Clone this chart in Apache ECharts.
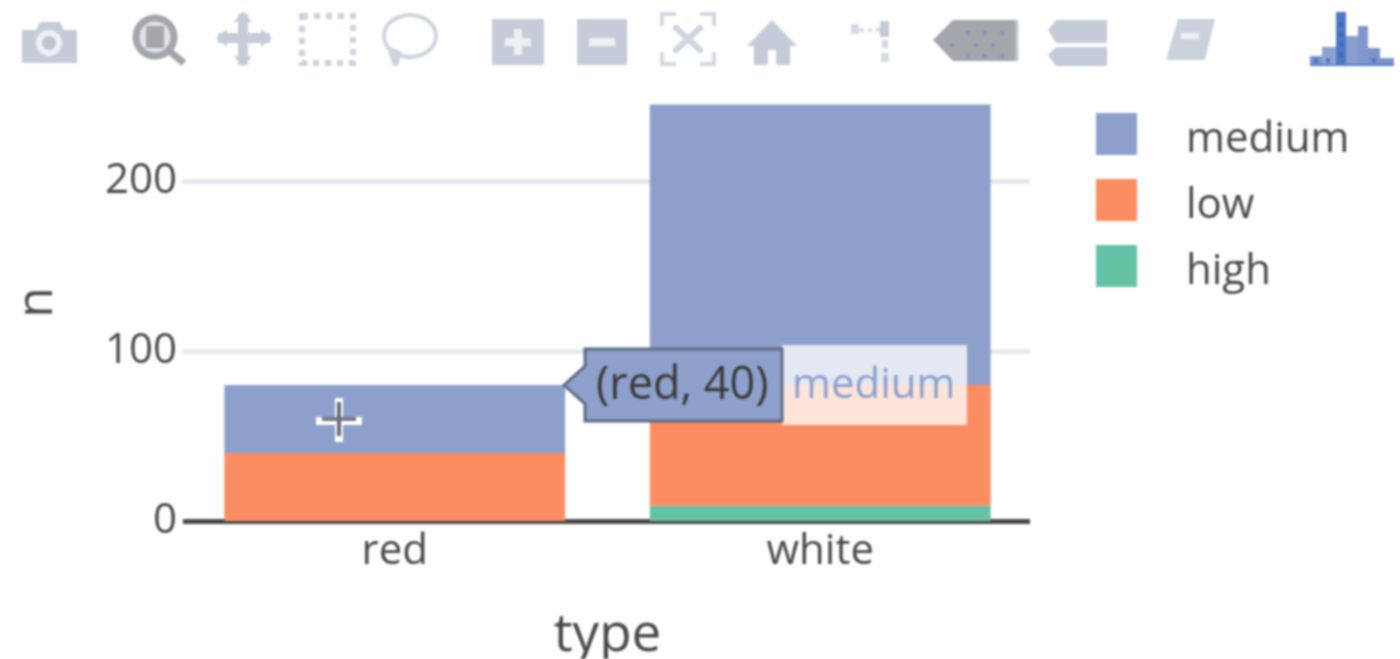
<!DOCTYPE html>
<html><head><meta charset="utf-8">
<style>html,body{margin:0;padding:0;background:#fff;overflow:hidden}#c{width:1400px;height:659px;filter:blur(1.2px)}</style>
<script src="https://cdn.jsdelivr.net/npm/echarts@6/dist/echarts.min.js"></script>
</head><body><div id="c"></div>
<script>
const categories = ['red', 'white'];
const high = [null, 9];
const low = [40, 71];
const medium = [40, 165];
const legendOrder = ['medium', 'low', 'high'];
const hoverName = 'medium';
const hoverText = '(red, 40)';

const FONT = '"Open Sans", "Noto Sans", sans-serif';
const TXT = '#4a4a4a';
const ICON = '#c5ccd8';
const DARK = '#a4a6ac';

function rect(x, y, w, h, fill) { return {type:'rect', shape:{x, y, width:w, height:h}, style:{fill}, silent:true}; }
function poly(points, fill) { return {type:'polygon', shape:{points}, style:{fill}, silent:true}; }
function line(x1, y1, x2, y2, stroke, lineWidth, lineDash) { return {type:'line', shape:{x1, y1, x2, y2}, style:{stroke, lineWidth, lineDash}, silent:true}; }

const icons = [
  // camera
  poly([[22,30],[36,30],[40,22],[60,22],[64,30],[77,30],[77,63],[22,63]], ICON),
  {type:'circle', shape:{cx:49, cy:43, r:13}, style:{fill:'#eef0f4'}, silent:true},
  {type:'circle', shape:{cx:49, cy:43, r:7}, style:{fill:'#bcc4d0'}, silent:true},
  // zoom
  {type:'circle', shape:{cx:155, cy:37, r:19}, style:{fill:'#dfe2e8', stroke:DARK, lineWidth:7}, silent:true},
  rect(146, 26, 18, 22, DARK),
  line(168, 50, 184, 63, DARK, 7),
  // pan
  line(218, 38, 270, 38, ICON, 10), line(243, 14, 243, 65, ICON, 10),
  poly([[243,11],[252,22],[234,22]], ICON), poly([[243,67],[252,56],[234,56]], ICON),
  poly([[216,38],[227,29],[227,47]], ICON), poly([[272,38],[261,29],[261,47]], ICON),
  // box select
  {type:'rect', shape:{x:302, y:16, width:51, height:47}, style:{fill:'none', stroke:'#cdd3dd', lineWidth:6, lineDash:[6,6]}, silent:true},
  // lasso
  {type:'ellipse', shape:{cx:410, cy:36, rx:26, ry:21}, style:{fill:'none', stroke:'#cfd5de', lineWidth:4}, silent:true},
  poly([[386,45],[402,52],[398,66],[393,66]], '#cfd5de'),
  // zoom in
  rect(492, 19, 52, 46, ICON), rect(505, 38, 26, 8, '#eef0f4'), rect(514, 29, 8, 26, '#eef0f4'),
  // zoom out
  rect(577, 19, 50, 46, ICON), rect(589, 38, 26, 8, '#eef0f4'),
  // autoscale
  line(662, 26, 662, 13, '#d3d8e1', 4), line(660, 14, 676, 14, '#d3d8e1', 4),
  line(714, 26, 714, 13, '#d3d8e1', 4), line(716, 14, 700, 14, '#d3d8e1', 4),
  line(662, 52, 662, 65, '#d3d8e1', 4), line(660, 64, 676, 64, '#d3d8e1', 4),
  line(714, 52, 714, 65, '#d3d8e1', 4), line(716, 64, 700, 64, '#d3d8e1', 4),
  line(674, 26, 702, 52, '#cfd5de', 6), line(702, 26, 674, 52, '#cfd5de', 6),
  // home
  poly([[772,20],[797,46],[790,46],[790,65],[776,65],[776,50],[768,50],[768,65],[754,65],[754,46],[747,46]], ICON),
  // spikelines
  rect(851, 24, 8, 10, '#d6dbe3'), line(860, 30, 880, 30, '#d6dbe3', 4, [4,4]),
  rect(880, 21, 9, 16, ICON), rect(882, 40, 6, 8, '#d0d6df'), rect(881, 53, 8, 9, '#d6dbe3'),
  // hover closest (tag)
  poly([[933,40],[953,20],[1017,20],[1017,61],[953,61]], DARK),
  line(1017, 20, 1017, 61, ICON, 3),
  ...[[968,33],[985,33],[1002,33],[976,45],[993,45],[952,45],[968,56],[985,56],[1002,56]].map(p => rect(p[0]-2, p[1]-2, 4, 4, '#8a96b6')),
  // hover compare (two tags)
  poly([[1048,30],[1056,20],[1107,20],[1107,43],[1056,43]], ICON),
  poly([[1048,55],[1056,47],[1107,47],[1107,66],[1056,66]], ICON),
  // doc / toggle
  poly([[1178,19],[1215,19],[1205,60],[1166,60]], '#cbd1db'),
  rect(1181, 33, 18, 6, '#edeff3'),
  // logo bars
  rect(1310, 56, 12, 9, '#7d93c6'), rect(1322, 47, 14, 18, '#8ea2d2'),
  rect(1336, 12, 10, 53, '#4f78c4'), rect(1346, 36, 18, 29, '#8a9fcf'),
  rect(1358, 26, 10, 39, '#7f97cc'), rect(1368, 48, 12, 17, '#7b93ca'), rect(1380, 58, 14, 7, '#7b93ca'),
  ...[1341].flatMap(x => [22,32,42,52].map(y => rect(x-2, y, 4, 5, '#3f6cc0'))),
  ...[1316,1328,1374].map(x => rect(x-2, 58, 4, 5, '#4f78c4')),
  line(1310, 65, 1394, 65, '#5a80c8', 2)
];

const hover = [
  rect(1030, 170, 6, 360, '#ffffff'),
  rect(177, 515, 6, 12, '#ffffff'),
  rect(782, 345, 185, 80, 'rgba(255,255,255,0.76)'),
  {type:'polygon', shape:{points:[[564,385],[585,366],[585,349],[782,349],[782,421],[585,421],[585,404]]},
   style:{fill:'#8DA0CB', stroke:'#5f6b84', lineWidth:3}, silent:true},
  {type:'text', style:{text:hoverText, x:596, y:386, fill:'#3a3a3a', font:'45px ' + FONT, textVerticalAlign:'middle'}, silent:true},
  {type:'text', style:{text:hoverName, x:792, y:386, fill:'#8DA0CB', font:'42px ' + FONT, textVerticalAlign:'middle'}, silent:true},
  // cursor
  line(316, 421, 362, 421, '#ffffff', 8), line(339, 398, 339, 442, '#ffffff', 8),
  line(322, 419, 356, 419, '#777a84', 4), line(339, 402, 339, 436, '#666a76', 4)
];

const seriesOf = (name, data, color) => ({
  name, type:'bar', stack:'n', data, barWidth:'80.1%',
  itemStyle:{color}, emphasis:{disabled:true}
});

const chart = echarts.init(document.getElementById('c'));
chart.setOption({
  animation:false,
  backgroundColor:'#ffffff',
  textStyle:{fontFamily:FONT},
  grid:{left:182, right:367, top:96, bottom:138, containLabel:false, outerBoundsMode:'none'},
  legend:{
    left:1096, top:108, padding:0, orient:'vertical', data:legendOrder, itemWidth:41, itemHeight:42, itemGap:13,
    icon:'rect', selectedMode:false,
    formatter: name => '{s| }\n{a|' + name + '}',
    textStyle:{
      fontFamily:FONT, fontSize:42, color:TXT, padding:[0,0,0,44],
      rich:{
        s:{fontSize:10, lineHeight:12},
        a:{fontFamily:FONT, fontSize:42, color:TXT, lineHeight:42}
      }
    }
  },
  xAxis:{
    type:'category', data:categories, name:'type', nameLocation:'middle', nameGap:88,
    nameTextStyle:{fontSize:53, color:TXT, fontFamily:FONT},
    axisLine:{show:true, lineStyle:{color:'#4a4a4a', width:5}},
    axisTick:{show:false},
    axisLabel:{fontSize:42, color:TXT, margin:10, fontFamily:FONT}
  },
  yAxis:{
    type:'value', min:0, max:250, interval:100, name:'n', nameLocation:'middle', nameGap:119,
    nameTextStyle:{fontSize:50, color:TXT, fontFamily:FONT, padding:[0,0,0,12]},
    axisLine:{show:false}, axisTick:{show:false},
    axisLabel:{fontSize:42, color:TXT, margin:5, fontFamily:FONT, showMaxLabel:false},
    splitLine:{show:true, showMinLine:false, showMaxLine:false, lineStyle:{color:'#e6e9f1', width:5}}
  },
  series:[
    seriesOf('high', high, '#66C2A5'),
    seriesOf('low', low, '#FC8D62'),
    seriesOf('medium', medium, '#8DA0CB')
  ],
  graphic:{elements:[...icons, ...hover].map(e => Object.assign({z:100}, e))}
});
</script></body></html>
